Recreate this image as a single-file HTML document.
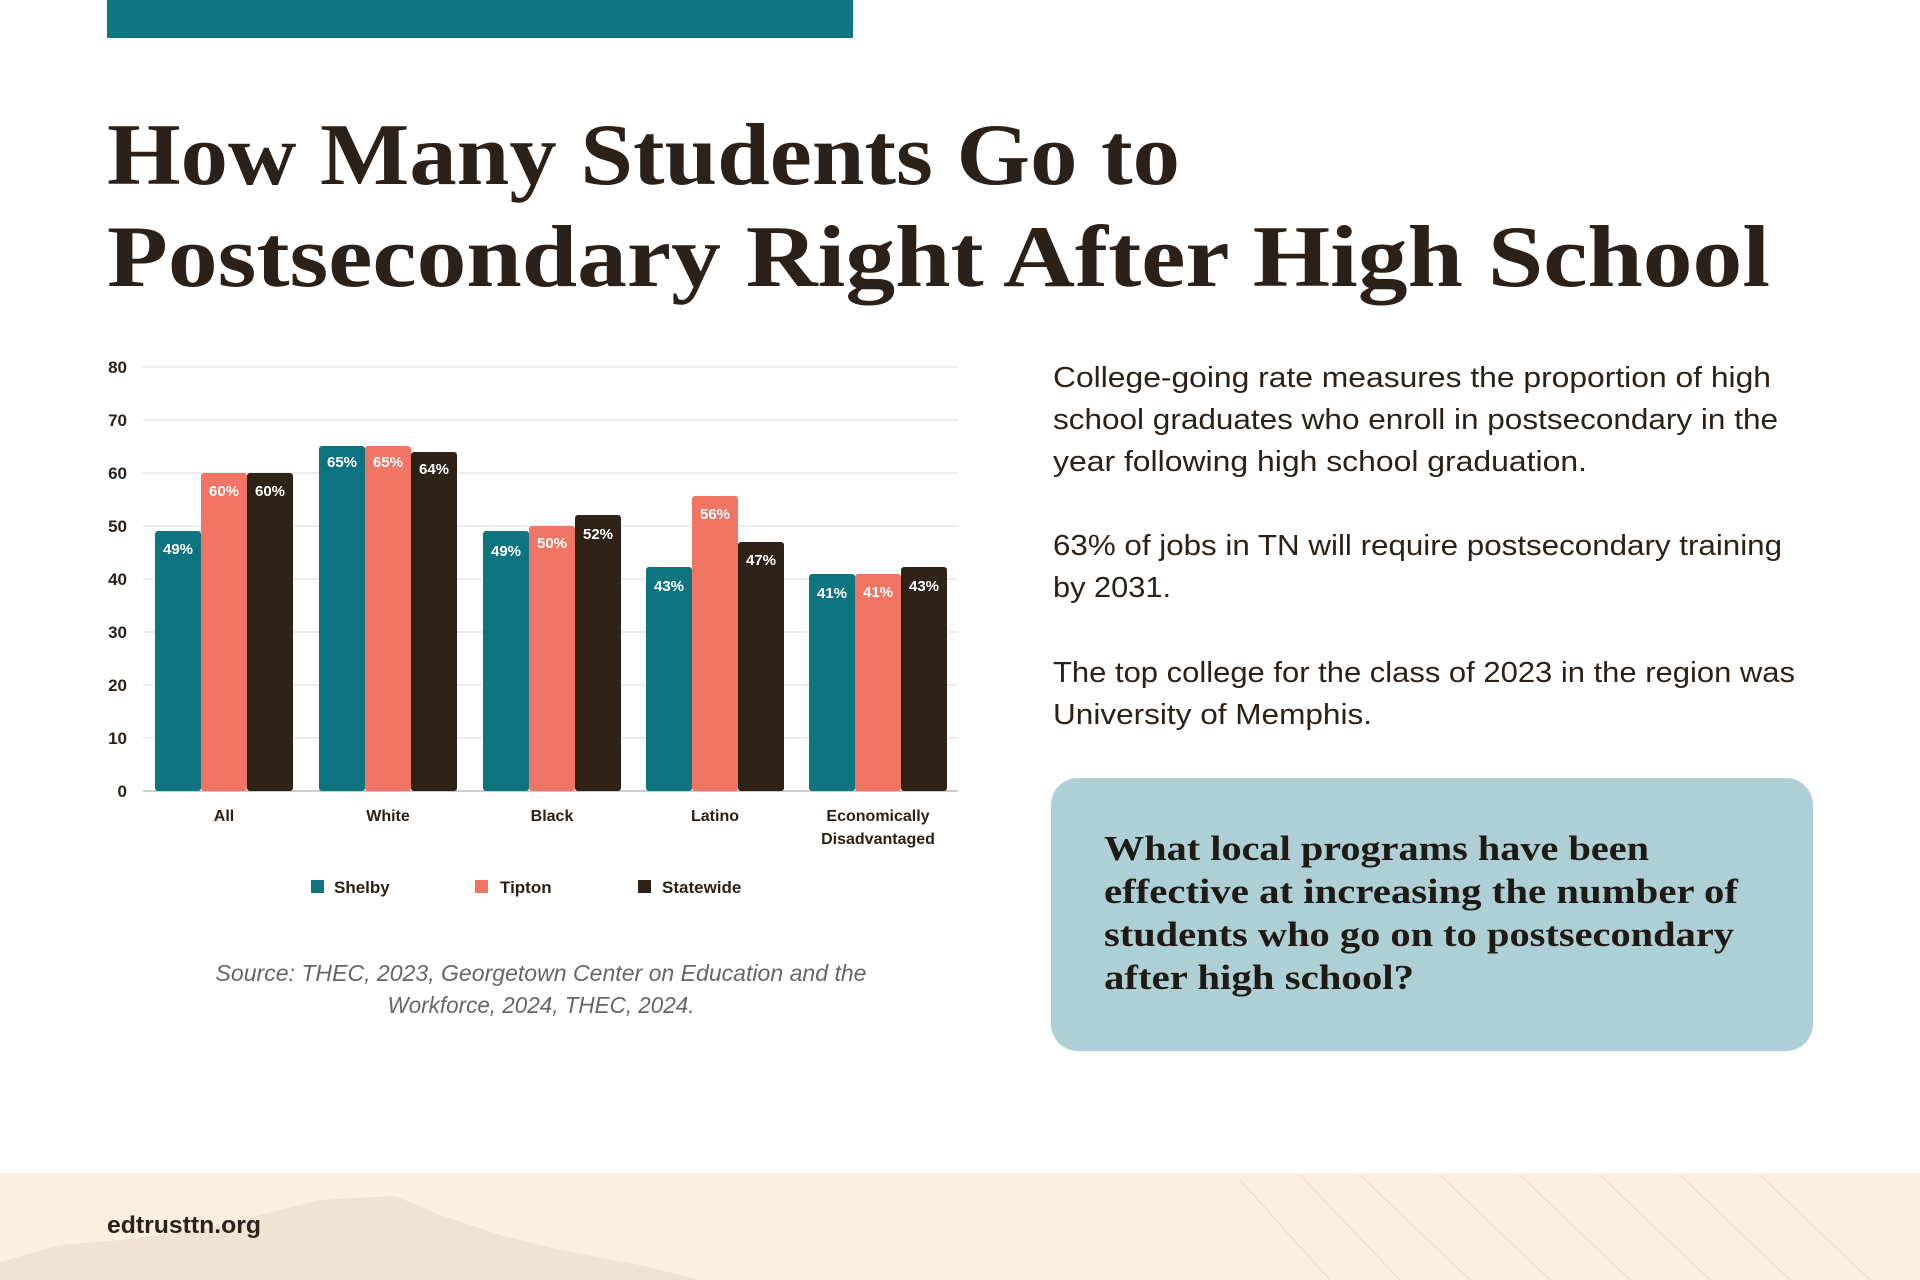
<!DOCTYPE html>
<html><head><meta charset="utf-8"><style>html,body{margin:0;padding:0;background:#fff}svg{display:block}</style></head>
<body>
<svg width="1920" height="1280" viewBox="0 0 1920 1280" xmlns="http://www.w3.org/2000/svg">
<rect x="107" y="0" width="746" height="38" fill="#0e7580"/>
<g font-family="Liberation Serif, serif" font-weight="bold" fill="#2b2118" font-size="88">
<text x="107" y="184" textLength="1073" lengthAdjust="spacingAndGlyphs">How Many Students Go to</text>
<text x="107" y="286" textLength="1663" lengthAdjust="spacingAndGlyphs">Postsecondary Right After High School</text>
</g>
<!-- grid -->
<g stroke="#e6e6e6" stroke-width="1.5">
<line x1="143" y1="367" x2="958" y2="367"/><line x1="143" y1="420" x2="958" y2="420"/>
<line x1="143" y1="473" x2="958" y2="473"/><line x1="143" y1="526" x2="958" y2="526"/>
<line x1="143" y1="579" x2="958" y2="579"/><line x1="143" y1="632" x2="958" y2="632"/>
<line x1="143" y1="685" x2="958" y2="685"/><line x1="143" y1="738" x2="958" y2="738"/>
</g>
<line x1="143" y1="791" x2="958" y2="791" stroke="#ccc" stroke-width="2"/>
<g font-family="Liberation Sans, sans-serif" font-weight="bold" font-size="17" fill="#2b2118" text-anchor="end">
<text x="127" y="373">80</text><text x="127" y="426">70</text><text x="127" y="479">60</text>
<text x="127" y="532">50</text><text x="127" y="585">40</text><text x="127" y="638">30</text>
<text x="127" y="691">20</text><text x="127" y="744">10</text><text x="127" y="797">0</text>
</g>
<g>
<!-- All -->
<rect x="155" y="531" width="46" height="260" fill="#0e7580" rx="3"/>
<rect x="201" y="473" width="46" height="318" fill="#f07565" rx="3"/>
<rect x="247" y="473" width="46" height="318" fill="#2f2318" rx="3"/>
<!-- White -->
<rect x="319" y="446" width="46" height="345" fill="#0e7580" rx="3"/>
<rect x="365" y="446" width="46" height="345" fill="#f07565" rx="3"/>
<rect x="411" y="452" width="46" height="339" fill="#2f2318" rx="3"/>
<!-- Black -->
<rect x="483" y="531" width="46" height="260" fill="#0e7580" rx="3"/>
<rect x="529" y="526" width="46" height="265" fill="#f07565" rx="3"/>
<rect x="575" y="515" width="46" height="276" fill="#2f2318" rx="3"/>
<!-- Latino -->
<rect x="646" y="567" width="46" height="224" fill="#0e7580" rx="3"/>
<rect x="692" y="496" width="46" height="295" fill="#f07565" rx="3"/>
<rect x="738" y="542" width="46" height="249" fill="#2f2318" rx="3"/>
<!-- Econ -->
<rect x="809" y="574" width="46" height="217" fill="#0e7580" rx="3"/>
<rect x="855" y="574" width="46" height="217" fill="#f07565" rx="3"/>
<rect x="901" y="567" width="46" height="224" fill="#2f2318" rx="3"/>
</g>
<g font-family="Liberation Sans, sans-serif" font-weight="bold" font-size="15" fill="#fff" text-anchor="middle">
<text x="178" y="554">49%</text><text x="224" y="496">60%</text><text x="270" y="496">60%</text>
<text x="342" y="467">65%</text><text x="388" y="467">65%</text><text x="434" y="474">64%</text>
<text x="506" y="556">49%</text><text x="552" y="548">50%</text><text x="598" y="539">52%</text>
<text x="669" y="591">43%</text><text x="715" y="519">56%</text><text x="761" y="565">47%</text>
<text x="832" y="598">41%</text><text x="878" y="597">41%</text><text x="924" y="591">43%</text>
</g>
<g font-family="Liberation Sans, sans-serif" font-weight="bold" font-size="16" fill="#2b2118" text-anchor="middle">
<text x="224" y="821">All</text><text x="388" y="821">White</text><text x="552" y="821">Black</text>
<text x="715" y="821">Latino</text><text x="878" y="821">Economically</text><text x="878" y="844">Disadvantaged</text>
</g>
<g font-family="Liberation Sans, sans-serif" font-weight="bold" font-size="17" fill="#2b2118">
<rect x="311" y="880" width="13" height="13" fill="#0e7580"/><text x="334" y="893">Shelby</text>
<rect x="475" y="880" width="13" height="13" fill="#f07565"/><text x="500" y="893">Tipton</text>
<rect x="638" y="880" width="13" height="13" fill="#2f2318"/><text x="662" y="893">Statewide</text>
</g>
<g font-family="Liberation Sans, sans-serif" font-style="italic" font-size="23" fill="#666" text-anchor="middle">
<text x="541" y="981" textLength="651" lengthAdjust="spacingAndGlyphs">Source: THEC, 2023, Georgetown Center on Education and the</text>
<text x="541" y="1013" textLength="307" lengthAdjust="spacingAndGlyphs">Workforce, 2024, THEC, 2024.</text>
</g>
<g font-family="Liberation Sans, sans-serif" font-size="29" fill="#2b2118">
<text x="1053" y="387" textLength="718" lengthAdjust="spacingAndGlyphs">College-going rate measures the proportion of high</text>
<text x="1053" y="429" textLength="725" lengthAdjust="spacingAndGlyphs">school graduates who enroll in postsecondary in the</text>
<text x="1053" y="471" textLength="534" lengthAdjust="spacingAndGlyphs">year following high school graduation.</text>
<text x="1053" y="555" textLength="729" lengthAdjust="spacingAndGlyphs">63% of jobs in TN will require postsecondary training</text>
<text x="1053" y="597" textLength="118" lengthAdjust="spacingAndGlyphs">by 2031.</text>
<text x="1053" y="682" textLength="742" lengthAdjust="spacingAndGlyphs">The top college for the class of 2023 in the region was</text>
<text x="1053" y="724" textLength="319" lengthAdjust="spacingAndGlyphs">University of Memphis.</text>
</g>
<rect x="1051" y="778" width="762" height="273" rx="27" fill="#aecfd5"/>
<g font-family="Liberation Serif, serif" font-weight="bold" font-size="35" fill="#1f1a14">
<text x="1104" y="860" textLength="545" lengthAdjust="spacingAndGlyphs">What local programs have been</text>
<text x="1104" y="903" textLength="634" lengthAdjust="spacingAndGlyphs">effective at increasing the number of</text>
<text x="1104" y="946" textLength="630" lengthAdjust="spacingAndGlyphs">students who go on to postsecondary</text>
<text x="1104" y="989" textLength="310" lengthAdjust="spacingAndGlyphs">after high school?</text>
</g>
<rect x="0" y="1173" width="1920" height="107" fill="#fcefe0"/>
<path d="M0 1262 L60 1245 L120 1240 L200 1230 L260 1215 L320 1200 L395 1196 L440 1215 L500 1235 L560 1250 L640 1265 L700 1280 L0 1280 Z" fill="#f1e3d3"/>
<g stroke="#ecdccb" stroke-width="1">
<line x1="1240" y1="1180" x2="1330" y2="1280"/><line x1="1300" y1="1175" x2="1400" y2="1280"/>
<line x1="1360" y1="1175" x2="1470" y2="1280"/><line x1="1440" y1="1175" x2="1550" y2="1280"/>
<line x1="1520" y1="1175" x2="1630" y2="1280"/><line x1="1600" y1="1175" x2="1710" y2="1280"/>
<line x1="1680" y1="1175" x2="1790" y2="1280"/><line x1="1760" y1="1175" x2="1870" y2="1280"/>
</g>
<text x="107" y="1233" font-family="Liberation Sans, sans-serif" font-weight="bold" font-size="24" fill="#2b2118" textLength="154" lengthAdjust="spacingAndGlyphs">edtrusttn.org</text>
</svg>
</body></html>
